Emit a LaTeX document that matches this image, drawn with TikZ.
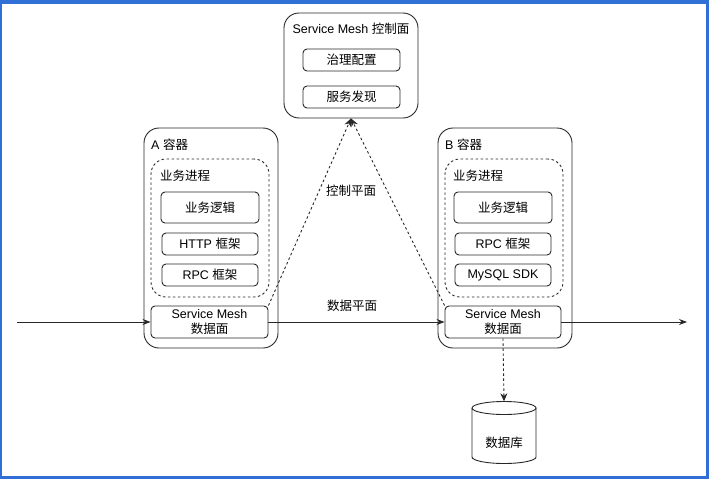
\documentclass[tikz,border=0pt]{standalone}
\usepackage{fontspec}
\setmainfont{Liberation Sans}
\newfontfamily\cjk{Noto Sans CJK SC}
\usetikzlibrary{arrows.meta}
\definecolor{frameblue}{RGB}{48,112,214}
\definecolor{ln}{RGB}{40,40,40}
\tikzset{
  box/.style={draw=ln, line width=0.9pt, rounded corners=4pt, font=\fontsize{12.5}{15.5}\selectfont, align=center, inner sep=0pt},
  bigbox/.style={draw=ln, line width=0.9pt, rounded corners=15pt, inner sep=0pt},
  dashbox/.style={draw=ln, line width=0.9pt, dashed, dash pattern=on 2.5pt off 2.5pt, rounded corners=15pt, inner sep=0pt},
  lbl/.style={font=\fontsize{12.5}{15}\selectfont, inner sep=0pt},
  flow/.style={draw=ln, line width=0.9pt, -{Stealth[length=8pt,width=6pt]}},
  ctl/.style={draw=ln, line width=0.9pt, dash pattern=on 2.5pt off 2.5pt, -{Stealth[length=8pt,width=7pt]}},
}
\begin{document}
\begin{tikzpicture}[x=1pt,y=-1pt]
\useasboundingbox (0,0) rectangle (709,479);
\fill[frameblue] (0,0) rectangle (709,479);
\fill[white] (2,4) rectangle (706,476);
% control plane
\node[bigbox, minimum width=134pt, minimum height=105pt] (ctrl) at (351,65.5) {};
\node[lbl] (ctrlt) at (351,29) {Service Mesh {\cjk 控制面}};
\node[box, minimum width=97pt, minimum height=22pt] (gov) at (351.5,60) {\cjk 治理配置};
\node[box, minimum width=97pt, minimum height=22pt] (disc) at (351.5,97) {\cjk 服务发现};
% container A
\node[bigbox, minimum width=134pt, minimum height=220pt] (ca) at (211,238) {};
\node[lbl, anchor=west] (cat) at (151,145) {A {\cjk 容器}};
\node[dashbox, minimum width=118pt, minimum height=138pt] (pa) at (210,228) {};
\node[lbl, anchor=west] (pat) at (160,176) {\cjk 业务进程};
\node[box, minimum width=98pt, minimum height=31pt] (la) at (210,207.5) {\cjk 业务逻辑};
\node[box, minimum width=96pt, minimum height=22pt] (ha) at (210,244) {HTTP {\cjk 框架}};
\node[box, minimum width=96pt, minimum height=22pt] (ra) at (210,275) {RPC {\cjk 框架}};
\node[box, minimum width=117pt, minimum height=32pt] (da) at (209.5,322) {Service Mesh\\{\cjk 数据面}};
% container B
\node[bigbox, minimum width=134pt, minimum height=220pt] (cb) at (505,238) {};
\node[lbl, anchor=west] (cbt) at (445,145) {B {\cjk 容器}};
\node[dashbox, minimum width=118pt, minimum height=138pt] (pb) at (504,228) {};
\node[lbl, anchor=west] (pbt) at (453,176) {\cjk 业务进程};
\node[box, minimum width=98pt, minimum height=31pt] (lb) at (503,207.5) {\cjk 业务逻辑};
\node[box, minimum width=96pt, minimum height=22pt] (rb) at (503,244) {RPC {\cjk 框架}};
\node[box, minimum width=96pt, minimum height=22pt] (mb) at (503,275) {MySQL SDK};
\node[box, minimum width=116pt, minimum height=32pt] (db) at (503,322) {Service Mesh\\{\cjk 数据面}};
% database
\draw[ln, line width=0.9pt, fill=white] (472,408) -- (472,457) arc (180:0:32 and 6.5) -- (536,408);
\draw[ln, line width=0.9pt] (504,408) ellipse (32 and 6.5);
\node[inner sep=0pt, minimum width=64pt, minimum height=61pt] (dbase) at (504,432) {};
\node[lbl] (dbaset) at (504,443) {\cjk 数据库};
% flows
\coordinate (lin) at (17,322);
\coordinate (rout) at (687,322);
\draw[flow] (lin) -- (da.west);
\draw[flow] (da.east) -- (db.west);
\draw[flow] (db.east) -- (rout);
\draw[ctl] (da.north east) -- (ctrl.south);
\draw[ctl] (db.north west) -- (ctrl.south);
\draw[ctl] (db.south) -- (dbase.north);
\node[lbl] (ctlp) at (351,191) {\cjk 控制平面};
\node[lbl] (datp) at (352,306) {\cjk 数据平面};
\end{tikzpicture}
\end{document}
